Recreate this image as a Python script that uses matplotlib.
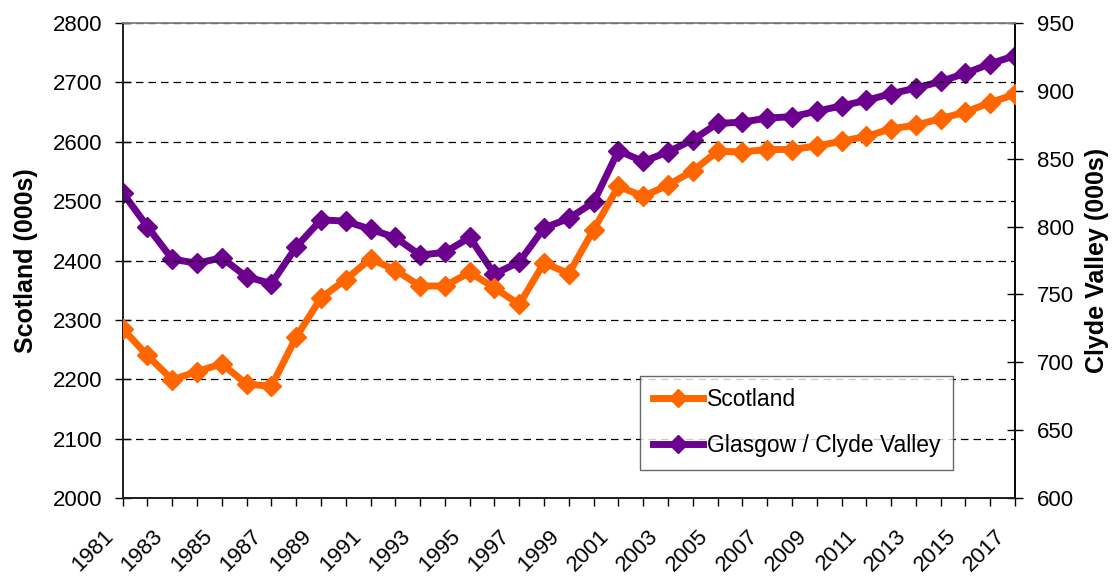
import matplotlib
matplotlib.use("Agg")
import matplotlib.pyplot as plt
import matplotlib.transforms as mtransforms

plt.rcParams['font.family'] = ['Liberation Sans', 'DejaVu Sans']

years = list(range(1981, 2018))
scotland = [2285, 2240, 2199, 2213, 2226, 2192, 2188, 2271, 2337, 2368,
            2403, 2384, 2357, 2357, 2380, 2354, 2326, 2396, 2378, 2452,
            2525, 2508, 2527, 2551, 2584, 2583, 2587, 2587, 2593, 2601,
            2609, 2622, 2628, 2639, 2650, 2666, 2680]
glasgow = [825, 800, 776, 773, 777, 763, 758, 785, 805, 804,
           798, 792, 779, 781, 792, 765, 774, 799, 806, 818,
           856, 848, 855, 864, 876, 877, 880, 881, 885, 889,
           893, 898, 902, 907, 913, 920, 926]
left_ticks = [2000, 2100, 2200, 2300, 2400, 2500, 2600, 2700, 2800]
right_ticks = [600, 650, 700, 750, 800, 850, 900, 950]
label_years = list(range(1981, 2018, 2))

orange = '#FF6600'
purple = '#6C008F'

fig = plt.figure(figsize=(11.18, 5.77), dpi=100)
ax = fig.add_axes([0.1097, 0.137, 0.7982, 0.823])
ax2 = ax.twinx()

l1, = ax.plot(years, scotland, color=orange, lw=5, marker='D', ms=10,
              label='Scotland', zorder=3)
l2, = ax2.plot(years, glasgow, color=purple, lw=5, marker='D', ms=10,
               label='Glasgow / Clyde Valley', zorder=3)

ax.set_xlim(1981, 2017)
ax.set_ylim(2000, 2800)
ax2.set_ylim(600, 950)
ax.set_yticks(left_ticks)
ax2.set_yticks(right_ticks)
ax.set_xticks(years)
ax.set_xticklabels([])

# rotated year labels placed below each odd-year tick
offset = mtransforms.ScaledTranslation(-20 / 100, -28 / 100, fig.dpi_scale_trans)
xtrans = ax.get_xaxis_transform() + offset
for yr in label_years:
    ax.text(yr, 0, str(yr), transform=xtrans, rotation=45, ha='right',
            va='top', rotation_mode='anchor', fontsize=16, clip_on=False)

ax.yaxis.grid(True, linestyle=(0, (6, 4)), color='black', lw=0.9)
ax.set_axisbelow(True)

ax.tick_params(axis='y', direction='inout', length=11, width=1, labelsize=16, pad=9)
ax2.tick_params(axis='y', direction='inout', length=11, width=1, labelsize=16, pad=10)
ax.tick_params(axis='x', direction='out', length=6, width=1)

for sp in ['left', 'bottom']:
    ax.spines[sp].set_color('#222222')
ax.spines['top'].set_color('#888888')
ax2.spines['top'].set_color('#888888')
ax2.spines['right'].set_color('#222222')
for s in ax.spines.values():
    s.set_linewidth(1.2)
for s in ax2.spines.values():
    s.set_linewidth(1.2)

ax.set_ylabel('Scotland (000s)', fontsize=18, fontweight='bold', labelpad=11)
ax2.set_ylabel('Clyde Valley (000s)', fontsize=18, fontweight='bold', labelpad=8)

leg = ax.legend(handles=[l1, l2], loc='lower left', bbox_to_anchor=(0.58, 0.059),
                fontsize=16.5, frameon=True, fancybox=False, handlelength=2.2,
                borderpad=0.55, labelspacing=1.0, handletextpad=0.15,
                borderaxespad=0)
leg.get_frame().set_edgecolor('#444444')
leg.get_frame().set_linewidth(1.0)
for h in leg.legend_handles:
    h.set_markersize(9)
leg.set_zorder(10)
ax.set_zorder(ax2.get_zorder() + 1)
ax.patch.set_visible(False)

fig.savefig('out.png', dpi=100)
